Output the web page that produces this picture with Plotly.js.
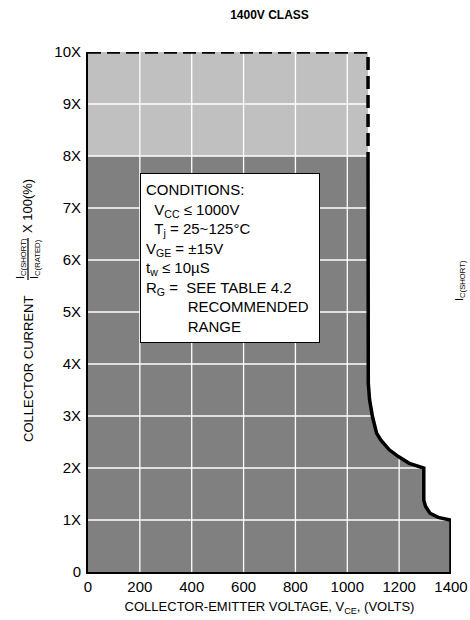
<!DOCTYPE html>
<html>
<head>
<meta charset="utf-8">
<script src="https://cdn.plot.ly/plotly-3.0.1.min.js"></script>
<style>html,body{margin:0;padding:0;background:#fff;}#chart{width:470px;height:620px;}</style>
</head>
<body>
<div id="chart"></div>
<script>
// ---- data ----
const xTicks = [0, 200, 400, 600, 800, 1000, 1200, 1400];
const yTicks = [0, 1, 2, 3, 4, 5, 6, 7, 8, 9, 10];
const yTickLabels = ["0", "1X", "2X", "3X", "4X", "5X", "6X", "7X", "8X", "9X", "10X"];

// non-repetitive region (light grey, dashed border)
const extX = [0, 1080, 1080, 0];
const extY = [8, 8, 10, 10];
const dashX = [0, 1080, 1080];
const dashY = [10, 10, 8];

// short-circuit SOA boundary (solid)
const soaX = [0, 1080, 1080, 1081, 1086, 1097, 1113, 1129, 1162, 1197, 1239, 1291, 1295, 1295, 1302, 1319, 1351, 1396, 1400, 1400];
const soaY = [8, 8, 3.95, 3.63, 3.31, 2.99, 2.67, 2.54, 2.35, 2.22, 2.09, 2.0, 2.0, 1.38, 1.26, 1.13, 1.05, 1.0, 1.0, 0];

// ---- build grid line trace from tick arrays ----
const gx = [], gy = [];
xTicks.slice(1, -1).forEach(v => { gx.push(v, v, null); gy.push(0, 10, null); });
yTicks.slice(1, -1).forEach(v => { gx.push(0, 1400, null); gy.push(v, v, null); });

const FONT = "Liberation Sans, Arial, sans-serif";

const traces = [
  {x: extX, y: extY, type: "scatter", mode: "lines", fill: "toself", fillcolor: "#c0c0c0",
   line: {width: 0, color: "#c0c0c0"}, hoverinfo: "skip", showlegend: false},
  {x: soaX, y: soaY, type: "scatter", mode: "lines", fill: "tozeroy", fillcolor: "#808080",
   line: {width: 0, color: "#808080"}, hoverinfo: "skip", showlegend: false},
  {x: gx, y: gy, type: "scatter", mode: "lines", line: {width: 1.3, color: "#ffffff"},
   hoverinfo: "skip", showlegend: false},
  {x: dashX, y: dashY, type: "scatter", mode: "lines", cliponaxis: false,
   line: {width: 3.5, color: "#000000", dash: "13px,6px"}, hoverinfo: "skip", showlegend: false},
  {x: soaX.slice(1), y: soaY.slice(1), type: "scatter", mode: "lines", cliponaxis: false,
   line: {width: 3.5, color: "#000000", shape: "linear"}, hoverinfo: "skip", showlegend: false}
];

const px = p => (p - 88) / 363;
const py = p => (572 - p) / 520;

const ind = "\u00a0".repeat(10);
const cond = "CONDITIONS:<br>" +
  "\u00a0\u00a0V<sub>CC</sub> \u2264 1000V<br>" +
  "\u00a0\u00a0T<sub>j</sub> = 25~125\u00b0C<br>" +
  "V<sub>GE</sub> = \u00b115V<br>" +
  "t<sub>w</sub> \u2264 10\u00b5S<br>" +
  "R<sub>G</sub> = \u00a0SEE TABLE 4.2<br>" +
  ind + "RECOMMENDED<br>" +
  ind + "RANGE";

const layout = {
  width: 470, height: 620,
  margin: {l: 88, r: 19, t: 52, b: 48},
  paper_bgcolor: "#ffffff", plot_bgcolor: "#ffffff",
  font: {family: FONT, color: "#000000", size: 15},
  title: {text: "<b>1400V CLASS</b>", font: {size: 12, family: FONT}, x: 0.5, xref: "paper",
          y: 1 - 15 / 620, yanchor: "middle"},
  xaxis: {range: [0, 1400], tickvals: xTicks, ticktext: xTicks.map(String), showgrid: false, zeroline: false,
          showline: true, linecolor: "#000000", linewidth: 2, ticks: "", tickfont: {size: 15},
          title: {text: "COLLECTOR-EMITTER VOLTAGE, V<sub>CE</sub>, (VOLTS)", font: {size: 13}, standoff: 8},
          fixedrange: true},
  yaxis: {range: [0, 10], tickvals: yTicks, ticktext: yTickLabels, showgrid: false, zeroline: false,
          showline: true, linecolor: "#000000", linewidth: 2, ticks: "", tickfont: {size: 15},
          ticklabelstandoff: 2, fixedrange: true},
  showlegend: false,
  shapes: [
    {type: "line", xref: "paper", yref: "paper", layer: "above", x0: px(28), x1: px(28), y0: py(238), y1: py(280),
     line: {color: "#000000", width: 1.2}}
  ],
  annotations: [
    {text: cond, xref: "paper", yref: "paper", x: px(140), y: py(173), xanchor: "left", yanchor: "top",
     align: "left", valign: "middle", width: 168, height: 158,
     showarrow: false, bgcolor: "#ffffff", bordercolor: "#000000", borderwidth: 1,
     borderpad: 5, font: {size: 15}},
    {text: "COLLECTOR CURRENT", xref: "paper", yref: "paper", x: px(28), y: py(369), textangle: -90,
     xanchor: "center", yanchor: "middle", showarrow: false, font: {size: 13}},
    {text: "I<sub>C(SHORT)</sub>", xref: "paper", yref: "paper", x: px(21), y: py(259), textangle: -90,
     xanchor: "center", yanchor: "middle", showarrow: false, font: {size: 11}},
    {text: "I<sub>C(RATED)</sub>", xref: "paper", yref: "paper", x: px(35), y: py(259), textangle: -90,
     xanchor: "center", yanchor: "middle", showarrow: false, font: {size: 11}},
    {text: "X 100(%)", xref: "paper", yref: "paper", x: px(28), y: py(206), textangle: -90,
     xanchor: "center", yanchor: "middle", showarrow: false, font: {size: 13}},
    {text: "I<sub>C(SHORT)</sub>", xref: "paper", yref: "paper", x: px(460), y: py(280), textangle: -90,
     xanchor: "center", yanchor: "middle", showarrow: false, font: {size: 11}}
  ]
};

Plotly.newPlot("chart", traces, layout, {displayModeBar: false, staticPlot: true});
</script>
</body>
</html>
